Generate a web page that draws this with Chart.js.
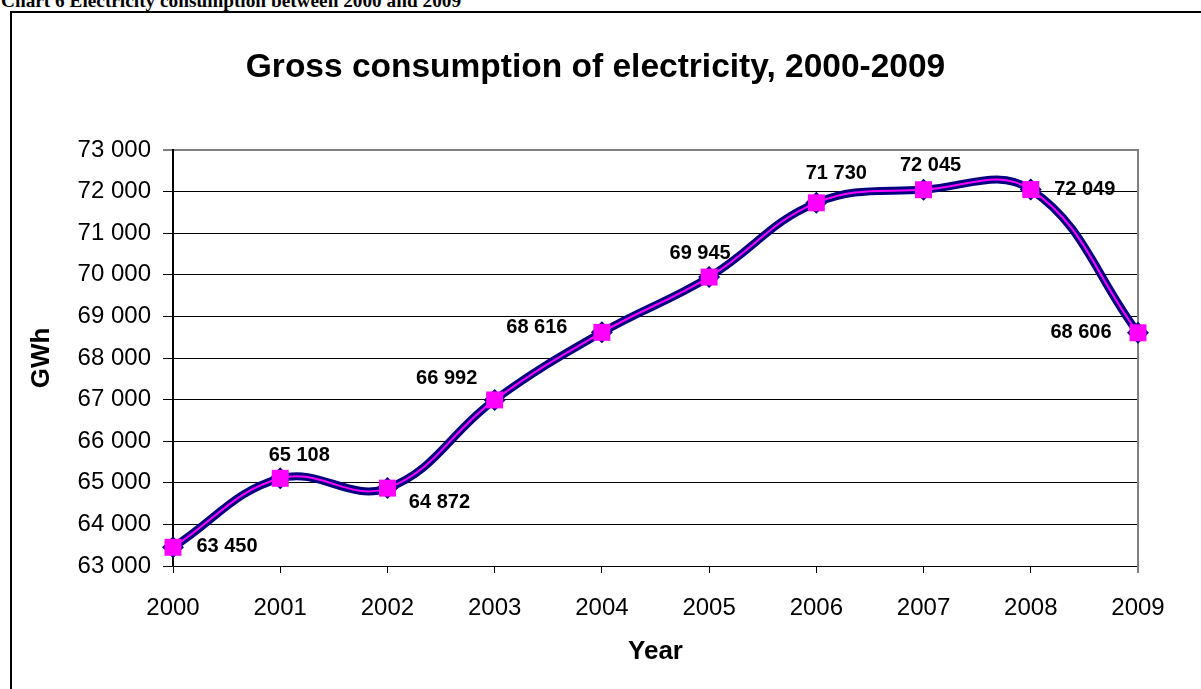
<!DOCTYPE html>
<html>
<head>
<meta charset="utf-8">
<title>Gross consumption of electricity, 2000-2009</title>
<script src="https://cdn.jsdelivr.net/npm/chart.js@4/dist/chart.umd.min.js"></script>
<style>
  html, body { margin: 0; padding: 0; background: #fff; width: 1201px; height: 689px; overflow: hidden; position: relative; }
  #heading { position: absolute; left: 1px; top: -9px; font: bold 19.3px "Liberation Serif", "Times New Roman", serif; line-height: 20px; white-space: nowrap; color: #000; }
  #frame { position: absolute; left: 10px; top: 11px; width: 1300px; height: 800px; border-left: 2px solid #000; border-top: 2px solid #000; }
  #wrap { position: absolute; left: 12px; top: 13px; width: 1189px; height: 676px; }
</style>
</head>
<body>
<div id="heading">Chart 6 Electricity consumption between 2000 and 2009</div>
<div id="frame"></div>
<div id="wrap"><canvas id="c"></canvas></div>
<script>
// Yearly gross electricity consumption, GWh
const years = ['2000', '2001', '2002', '2003', '2004', '2005', '2006', '2007', '2008', '2009'];
const consumption = [63450, 65108, 64872, 66992, 68616, 69945, 71730, 72045, 72049, 68606];

// Value axis range and step
const yMin = 63000;
const yMax = 73000;
const yStep = 1000;

// Where each value label sits relative to its marker (dx, dy in px)
const labelPlacement = [[54, -1], [19, -23], [52, 14], [-48, -21], [-65, -5],
                        [-9, -24], [20, -29], [7, -24], [54, 0], [-57, 0]];

const FONT = '"Liberation Sans", Arial, Helvetica, sans-serif';
Chart.defaults.font.family = FONT;
Chart.defaults.color = '#000';

function spaced(n) {
  return String(n).replace(/\B(?=(\d{3})+(?!\d))/g, ' ');
}

// Bold value labels next to the markers
const valueLabels = {
  id: 'valueLabels',
  afterDatasetsDraw(chart, args, opts) {
    const meta = chart.getDatasetMeta(0);
    const ctx = chart.ctx;
    ctx.save();
    ctx.font = 'bold 20px ' + FONT;
    ctx.fillStyle = '#000';
    ctx.textAlign = 'center';
    ctx.textBaseline = 'middle';
    meta.data.forEach((pt, i) => {
      const off = opts.placement[i] || [0, -20];
      ctx.fillText(spaced(consumption[i]), pt.x + off[0], pt.y + off[1]);
    });
    ctx.restore();
  }
};

// Grey right edge of the plot area
const plotFrame = {
  id: 'plotFrame',
  beforeDatasetsDraw(chart) {
    const { ctx, chartArea: a } = chart;
    ctx.save();
    ctx.strokeStyle = '#808080';
    ctx.lineWidth = 2;
    ctx.beginPath();
    ctx.moveTo(a.right, a.top - 1);
    ctx.lineTo(a.right, a.bottom + 7);
    ctx.stroke();
    ctx.restore();
  }
};

const lineBase = {
  data: consumption,
  fill: false,
  tension: 0.4,
  cubicInterpolationMode: 'default',
  clip: false,
  pointBorderWidth: 0,
  pointHoverRadius: 0
};

new Chart(document.getElementById('c'), {
  type: 'line',
  data: {
    labels: years,
    datasets: [
      Object.assign({}, lineBase, {
        label: 'Gross consumption',
        borderColor: '#FF00FF',
        borderWidth: 2,
        pointStyle: 'rect',
        pointRadius: 12,
        pointBackgroundColor: '#FF00FF',
        pointBorderColor: '#FF00FF'
      }),
      Object.assign({}, lineBase, {
        label: 'Gross consumption (outline)',
        borderColor: '#000080',
        borderWidth: 8,
        pointStyle: 'rectRot',
        pointRadius: 11,
        pointBackgroundColor: '#000080',
        pointBorderColor: '#000080'
      })
    ]
  },
  options: {
    responsive: true,
    maintainAspectRatio: false,
    animation: false,
    events: [],
    layout: { padding: { left: 0, right: 22, top: 0, bottom: 0 } },
    plugins: {
      legend: { display: false },
      tooltip: { enabled: false },
      title: {
        display: true,
        text: 'Gross consumption of electricity, 2000-2009',
        color: '#000',
        font: { size: 33.5, weight: 'bold', family: FONT },
        padding: { top: 34.9, bottom: 61.9 }
      },
      valueLabels: { placement: labelPlacement }
    },
    scales: {
      x: {
        type: 'category',
        offset: false,
        grid: {
          display: true,
          drawOnChartArea: false,
          drawTicks: true,
          tickLength: 7,
          color: '#000',
          offset: false
        },
        border: { display: true, color: '#000', width: 1 },
        ticks: {
          color: '#000',
          font: { size: 24, family: FONT },
          padding: 21,
          maxRotation: 0,
          autoSkip: false
        },
        title: {
          display: true,
          text: 'Year',
          color: '#000',
          font: { size: 26, weight: 'bold', family: FONT },
          padding: { top: 0, bottom: 21.5 }
        },
        afterFit(scale) { scale.height = 123; }
      },
      y: {
        min: yMin,
        max: yMax,
        grid: {
          color: (c) => (c.tick && c.tick.value === yMax ? '#808080' : '#000'),
          lineWidth: (c) => (c.tick && c.tick.value === yMax ? 2 : 1),
          tickLength: 10,
          drawTicks: true
        },
        border: { display: true, color: '#000', width: 2 },
        ticks: {
          stepSize: yStep,
          color: '#000',
          font: { size: 24, family: FONT },
          padding: 12,
          callback: (v) => spaced(v)
        },
        title: {
          display: true,
          text: 'GWh',
          color: '#000',
          font: { size: 26, weight: 'bold', family: FONT },
          padding: { top: 14.4, bottom: 0 }
        },
        afterFit(scale) { scale.width = 161; }
      },
      // empty margin on the right of the plot area
      yRight: {
        position: 'right',
        display: true,
        grid: { display: false, drawTicks: false },
        border: { display: false },
        ticks: { display: false },
        afterFit(scale) { scale.width = 41; }
      }
    }
  },
  plugins: [plotFrame, valueLabels]
});
</script>
</body>
</html>
